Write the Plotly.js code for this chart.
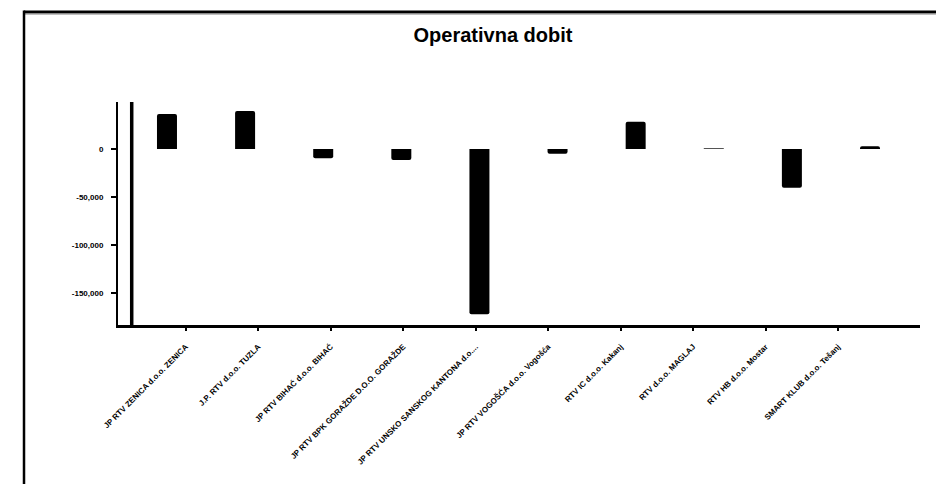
<!DOCTYPE html>
<html>
<head>
<meta charset="utf-8">
<script src="https://cdn.plot.ly/plotly-3.0.1.min.js"></script>
<style>
html,body{margin:0;padding:0;background:#fff;}
#chart{width:936px;height:484px;}
</style>
</head>
<body>
<div id="chart"></div>
<script>
const categories = [
  "JP RTV ZENICA d.o.o. ZENICA",
  "J.P. RTV d.o.o. TUZLA",
  "JP RTV BIHAĆ d.o.o. BIHAĆ",
  "JP RTV BPK GORAŽDE D.O.O. GORAŽDE",
  "JP RTV UNSKO SANSKOG KANTONA d.o....",
  "JP RTV VOGOŠĆA d.o.o. Vogošća",
  "RTV IC d.o.o. Kakanj",
  "RTV d.o.o. MAGLAJ",
  "RTV HB d.o.o. Mostar",
  "SMART KLUB d.o.o. Tešanj"
];
const values = [36400, 39500, -9700, -11400, -171800, -4900, 28400, 700, -40200, 2800];
const yTickValues = [0, -50000, -100000, -150000];
const yTickLabels = ["0", "-50,000", "-100,000", "-150,000"];
const titleText = "Operativna dobit";

const idx = categories.map((c, i) => i);

const traces = [
  {
    type: 'bar',
    x: categories,
    y: values,
    xaxis: 'x',
    yaxis: 'y',
    width: 0.256,
    marker: {color: '#000000', cornerradius: 2},
    hoverinfo: 'skip'
  },
  {
    type: 'scatter',
    mode: 'markers',
    x: idx,
    y: idx.map(() => null),
    xaxis: 'x2',
    yaxis: 'y',
    showlegend: false,
    hoverinfo: 'skip'
  }
];

const layout = {
  width: 936,
  height: 484,
  paper_bgcolor: '#ffffff',
  plot_bgcolor: '#ffffff',
  showlegend: false,
  margin: {l: 118, r: 16, t: 102, b: 159},
  font: {family: 'Liberation Sans, Arial, sans-serif', color: '#000'},
  title: {
    text: '<b>' + titleText + '</b>',
    font: {size: 20, color: '#000', family: 'Liberation Sans, Arial, sans-serif'},
    x: 0.4676, xref: 'paper', xanchor: 'center',
    y: 0.928, yref: 'container', yanchor: 'middle'
  },
  xaxis: {
    type: 'category',
    range: [-0.627, 9.64],
    showline: true, linecolor: '#000', linewidth: 2.5,
    showticklabels: false, ticks: '',
    showgrid: false, zeroline: false, fixedrange: true
  },
  xaxis2: {
    type: 'linear',
    overlaying: 'x',
    anchor: 'y',
    side: 'bottom',
    range: [-0.934, 10.13],
    tickmode: 'array',
    tickvals: idx,
    ticktext: categories,
    tickangle: -45,
    ticks: 'outside', ticklen: 5, tickwidth: 2, tickcolor: '#000',
    ticklabelstandoff: 8,
    tickfont: {size: 8, color: '#000', family: 'Liberation Sans, Arial, sans-serif', weight: 'bold'},
    showline: false, showgrid: false, zeroline: false, fixedrange: true
  },
  yaxis: {
    range: [-182950, 48860],
    tickmode: 'array',
    tickvals: yTickValues,
    ticktext: yTickLabels,
    ticks: 'outside', ticklen: 5, tickwidth: 2, tickcolor: '#000',
    ticklabelstandoff: 6,
    tickfont: {size: 8, color: '#000', family: 'Liberation Sans, Arial, sans-serif', weight: 'bold'},
    showline: true, linecolor: '#000', linewidth: 2,
    showgrid: false, zeroline: false, fixedrange: true
  },
  shapes: [
    {type: 'line', xref: 'paper', yref: 'paper', x0: 0.0171, x1: 0.0171, y0: 0, y1: 1,
     line: {color: '#000', width: 3.5}},
    {type: 'line', xref: 'paper', yref: 'paper', x0: -0.1172, x1: 1.05, y0: 1.4036, y1: 1.4036,
     line: {color: '#000', width: 3}},
    {type: 'line', xref: 'paper', yref: 'paper', x0: -0.1172, x1: 1.05, y0: 1.394, y1: 1.394,
     line: {color: '#9a9a9a', width: 1}},
    {type: 'line', xref: 'paper', yref: 'paper', x0: -0.1172, x1: -0.1172, y0: 1.41, y1: -0.75,
     line: {color: '#000', width: 2.5}}
  ]
};

Plotly.newPlot('chart', traces, layout, {displayModeBar: false, staticPlot: true});
</script>
</body>
</html>
